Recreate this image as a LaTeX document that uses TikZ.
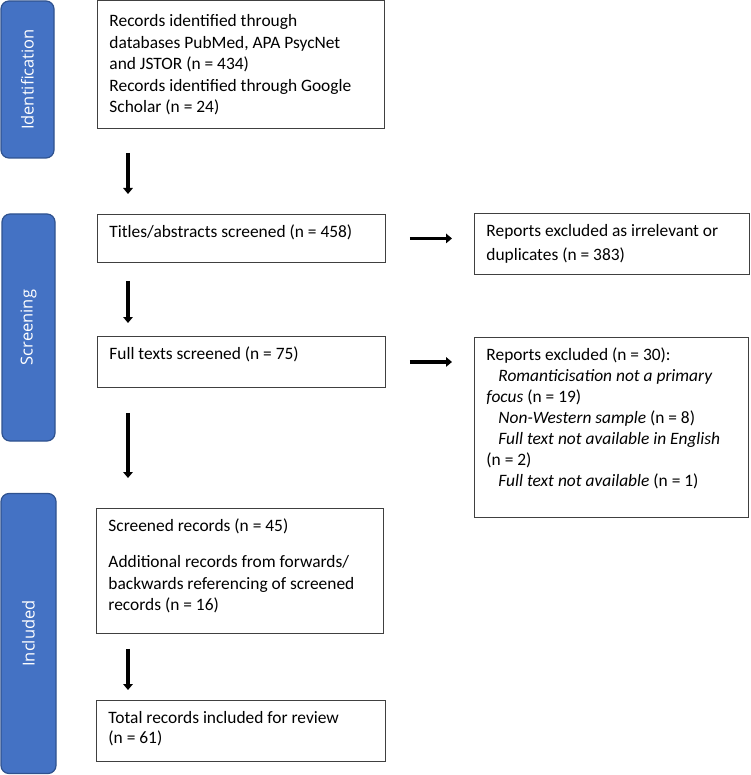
\documentclass[tikz,border=0pt]{standalone}
\usepackage{fontspec}
\setmainfont{Carlito}
\newfontfamily\lblfont{Open Sans}
\usetikzlibrary{arrows.meta}
\definecolor{stageblue}{HTML}{4472C4}
\definecolor{stageedge}{HTML}{2F528F}
\definecolor{boxedge}{HTML}{404040}
\newcommand\boxbody[4][8pt]{\parbox[b][#2][t]{#3}{\raggedright\vspace*{#1}\strut #4}}
\begin{document}
\begin{tikzpicture}[x=1pt,y=-1pt,
  stage/.style={rounded corners=8pt, fill=stageblue, draw=stageedge, line width=1.2pt,
    rotate=90, inner sep=0pt, text=white, font=\lblfont\fontsize{16.5}{20}\selectfont},
  box/.style={draw=boxedge, line width=0.9pt, anchor=north west, inner xsep=12pt, inner ysep=0pt,
    font=\fontsize{17.4}{21.4}\selectfont},
  arr/.style={line width=3.6pt, -{Triangle[width=9.5pt,length=6pt]}}]
\useasboundingbox (0,0) rectangle (750,775);
% stage labels
\node[stage, minimum width=157pt, minimum height=53pt] (s1) at (27.5,79.5) {Identification};
\node[stage, minimum width=227pt, minimum height=53pt] (s2) at (28.5,327.5) {Screening};
\node[stage, minimum width=280pt, minimum height=55pt] (s3) at (28.5,633.5) {Included};
% boxes
\node[box] (b1) at (97,0.5) {\boxbody[11pt]{127.5pt}{263pt}{Records identified through\\ databases PubMed, APA PsycNet\\ and JSTOR (n = 434)\\ Records identified through Google\\ Scholar (n = 24)}};
\node[box] (b2) at (97,214) {\boxbody{48pt}{264pt}{Titles/abstracts screened (n = 458)}};
\node[box] (b3) at (474,213) {\boxbody{61pt}{251pt}{\baselineskip=24pt Reports excluded as irrelevant or\\ duplicates (n = 383)}};
\node[box] (b4) at (97,336) {\boxbody{51pt}{264pt}{Full texts screened (n = 75)}};
\node[box] (b5) at (474,337) {\boxbody{180pt}{250pt}{\baselineskip=21pt Reports excluded (n = 30):\\
  \hspace*{12pt}\textit{Romanticisation not a primary}\\
  \textit{focus} (n = 19)\\
  \hspace*{12pt}\textit{Non-Western sample} (n = 8)\\
  \hspace*{12pt}\textit{Full text not available in English}\\
  (n = 2)\\
  \hspace*{12pt}\textit{Full text not available} (n = 1)}};
\node[box] (b6) at (96,508) {\boxbody{125pt}{263pt}{Screened records (n = 45)\par\vspace{15pt}
  Additional records from forwards/\\ backwards referencing of screened\\ records (n = 16)}};
\node[box] (b7) at (96,700) {\boxbody{61pt}{265pt}{\baselineskip=20pt Total records included for review\\ (n = 61)}};
% arrows
\coordinate (r1) at (b3.west |- b2.east);
\coordinate (r2) at (b5.west |- b4.east);
\draw[arr] ([shift={(31,24)}]b1.south west) -- ([shift={(31,-20)}]b2.north west);
\draw[arr] ([shift={(31,18)}]b2.south west) -- ([shift={(31,-13)}]b4.north west);
\draw[arr] ([shift={(31,25)}]b4.south west) -- ([shift={(32,-30)}]b6.north west);
\draw[arr] ([shift={(32,15)}]b6.south west) -- ([shift={(32,-10)}]b7.north west);
\draw[arr] ([shift={(24,0)}]b2.east) -- ([shift={(-22,0)}]r1);
\draw[arr] ([shift={(24,0)}]b4.east) -- ([shift={(-22,0)}]r2);
\end{tikzpicture}
\end{document}
